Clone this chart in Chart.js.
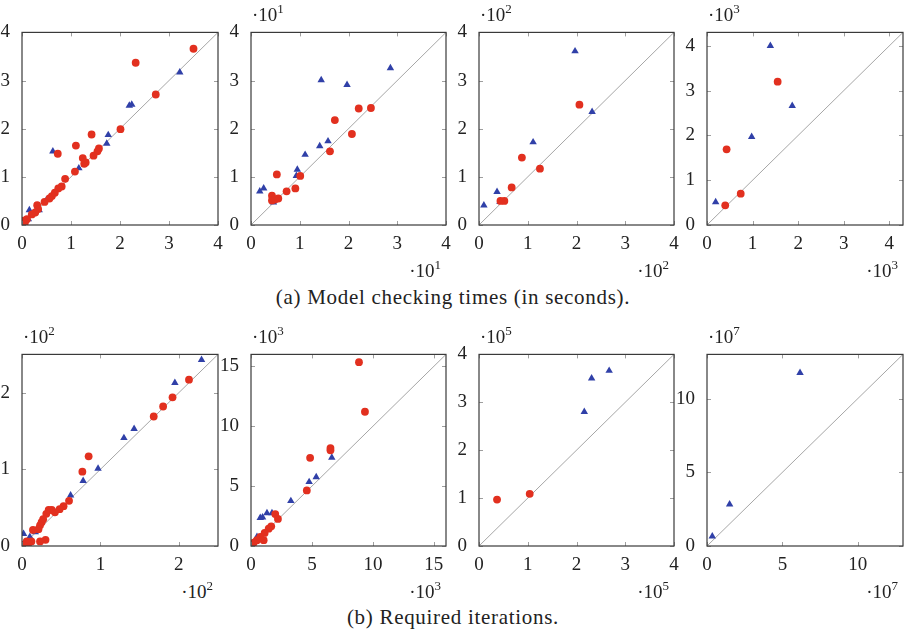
<!DOCTYPE html>
<html><head><meta charset="utf-8">
<script src="https://cdn.jsdelivr.net/npm/chart.js@4"></script>
<style>
body{margin:0;background:#fff;width:906px;height:630px;position:relative;overflow:hidden;font-family:'Liberation Serif','Times New Roman',serif;color:#222}
canvas{position:absolute}
.m{position:absolute;font-size:19px;line-height:20px;white-space:nowrap}
.m .s{font-size:13px;position:relative;top:-8px}
.cap{position:absolute;font-size:21px;letter-spacing:0.7px;line-height:22px;width:906px;text-align:center;left:0}
</style></head><body>
<div class="cap" style="top:286px">(a) Model checking times (in seconds).</div>
<div class="cap" style="top:606px">(b) Required iterations.</div>
<script>
// ---- data (x = first tool, y = second tool), values in axis units ----
const timesS_red = [[3.50,3.66],[2.32,3.37],[2.73,2.71],[2.01,1.99],[1.42,1.88],[1.10,1.65],[0.73,1.48],[1.57,1.59],[1.54,1.53],[1.46,1.44],[1.24,1.39],[1.27,1.27],[1.30,1.30],[1.08,1.11],[0.88,0.96],[0.81,0.80],[0.74,0.76],[0.67,0.67],[0.61,0.60],[0.56,0.55],[0.46,0.48],[0.31,0.41],[0.33,0.33],[0.27,0.26],[0.20,0.22],[0.10,0.12],[0.03,0.09],[0.00,0.02],[0.06,0.05]];
const timesS_blue = [[3.22,3.17],[2.24,2.50],[2.19,2.48],[1.76,1.87],[1.73,1.69],[0.63,1.53],[1.16,1.18],[0.50,0.52],[0.15,0.31],[0.35,0.31],[0.13,0.12],[0.00,0.00]];
const times10_red = [[2.46,2.43],[2.21,2.42],[1.72,2.18],[2.07,1.89],[1.62,1.53],[0.53,1.05],[1.01,1.02],[0.91,0.76],[0.73,0.70],[0.43,0.61],[0.43,0.51],[0.56,0.55],[0.49,0.53]];
const times10_blue = [[2.86,3.26],[1.44,3.01],[1.97,2.91],[1.58,1.74],[1.41,1.64],[1.11,1.46],[0.95,1.15],[0.93,1.02],[0.26,0.76],[0.18,0.70],[0.46,0.47]];
const times100_red = [[2.06,2.50],[0.88,1.40],[1.25,1.17],[0.67,0.78],[0.52,0.50],[0.44,0.50]];
const times100_blue = [[1.97,3.61],[2.32,2.35],[1.11,1.72],[0.37,0.69],[0.10,0.41],[0.43,0.48]];
const times1000_red = [[1.55,3.20],[0.43,1.69],[0.74,0.70],[0.40,0.44]];
const times1000_blue = [[1.39,4.00],[1.87,2.66],[0.98,1.97],[0.19,0.51]];
const iter100_red = [[2.13,2.17],[1.92,1.94],[1.80,1.82],[1.68,1.69],[0.85,1.17],[0.77,0.97],[0.60,0.59],[0.53,0.52],[0.48,0.48],[0.42,0.44],[0.38,0.47],[0.34,0.47],[0.31,0.42],[0.27,0.35],[0.25,0.31],[0.23,0.27],[0.21,0.22],[0.14,0.21],[0.30,0.08],[0.23,0.06],[0.12,0.06],[0.06,0.06],[0.04,0.02],[0.08,0.03],[0.02,0.01]];
const iter100_blue = [[2.29,2.43],[1.95,2.13],[1.43,1.53],[1.30,1.41],[0.97,1.01],[0.78,0.85],[0.62,0.66],[0.17,0.18],[0.10,0.12],[0.02,0.16],[0.02,0.03]];
const iter1e3_red = [[8.86,15.35],[9.35,11.21],[6.52,8.18],[6.52,7.99],[4.85,7.36],[4.58,4.64],[1.99,2.67],[2.21,2.26],[1.66,1.64],[1.45,1.45],[1.12,1.09],[1.04,0.49],[0.76,0.76],[0.49,0.49],[0.22,0.27]];
const iter1e3_blue = [[6.63,7.39],[5.35,5.75],[4.77,5.35],[3.27,3.76],[1.72,2.75],[1.31,2.75],[0.95,2.40],[0.76,2.35],[0.49,0.76]];
const iter1e5_red = [[0.37,0.97],[1.04,1.09]];
const iter1e5_blue = [[2.67,3.66],[2.31,3.50],[2.16,2.80]];
const iter1e7_red = [];
const iter1e7_blue = [[6.17,11.75],[1.50,2.83],[0.35,0.66]];

// axis ranges, tick labels and multipliers
const axisMax = [4, 4, 4, 4.3, 2.5, 16, 4, 13];
const ticks4 = [0,1,2,3,4];
const ticks2 = [0,1,2];
const ticks15 = [0,5,10,15];
const ticks10 = [0,5,10];
const panelTicks = [ticks4, ticks4, ticks4, ticks4, ticks2, ticks15, ticks4, ticks10];
const exponents = [null, 1, 2, 3, 2, 3, 5, 7];
const redSeries = [timesS_red, times10_red, times100_red, times1000_red, iter100_red, iter1e3_red, iter1e5_red, iter1e7_red];
const blueSeries = [timesS_blue, times10_blue, times100_blue, times1000_blue, iter100_blue, iter1e3_blue, iter1e5_blue, iter1e7_blue];

// layout (plot rectangles)
const rects = [
  [22,29,196,196],[251,29,195,196],[479,29,195,196],[707,29,196,196],
  [22,351,196,195],[251,351,195,195],[479,351,195,195],[707,351,196,195]
];

const RED = '#e2301f', BLUE = '#3040a8';
const FONT = {family:"'Liberation Serif', 'Times New Roman', serif", size:19};

const framePlugin = {
  id:'frame',
  afterDatasetsDraw(chart){
    const {ctx, chartArea:a, scales:{x,y}} = chart;
    ctx.save();
    ctx.strokeStyle='#9e9e9e'; ctx.lineWidth=1;
    ctx.beginPath();
    x.ticks.forEach(t=>{const p=Math.round(x.getPixelForValue(t.value))+0.5;
      ctx.moveTo(p,a.bottom); ctx.lineTo(p,a.bottom-4); ctx.moveTo(p,a.top); ctx.lineTo(p,a.top+4);});
    y.ticks.forEach(t=>{const p=Math.round(y.getPixelForValue(t.value))+0.5;
      ctx.moveTo(a.left,p); ctx.lineTo(a.left+4,p); ctx.moveTo(a.right,p); ctx.lineTo(a.right-4,p);});
    ctx.stroke();
    ctx.strokeStyle='#3a3a3a'; ctx.lineWidth=1.2;
    ctx.strokeRect(a.left,a.top,a.right-a.left,a.bottom-a.top);
    ctx.restore();
  }
};

const PL=45, PT=12, PR=5, PB=30;
rects.forEach((r,i)=>{
  const [L,T,W,H]=r;
  const c=document.createElement('canvas');
  c.width=PL+W+PR; c.height=PT+H+PB;
  c.style.left=(L-PL)+'px'; c.style.top=(T-PT)+'px';
  c.style.width=c.width+'px'; c.style.height=c.height+'px';
  document.body.appendChild(c);
  const mx=axisMax[i], tk=panelTicks[i];
  const toPts=a=>a.map(p=>({x:p[0],y:p[1]}));
  const scaleOpts=(axis)=>({
    type:'linear', min:0, max:mx,
    grid:{display:false}, border:{display:false},
    ticks:{font:FONT, color:'#222', padding:axis==='x'?0:4, autoSkip:false, maxRotation:0, includeBounds:false},
    afterBuildTicks:s=>{s.ticks=tk.map(v=>({value:v}));},
    afterFit:s=>{ if(axis==='x') s.height=PB; else s.width=PL; }
  });
  new Chart(c,{
    type:'scatter',
    data:{datasets:[
      {data:toPts(redSeries[i]), pointStyle:'circle', pointRadius:3.9, backgroundColor:RED, borderColor:RED, borderWidth:0},
      {data:toPts(blueSeries[i]), pointStyle:'triangle', pointRadius:4.3, backgroundColor:BLUE, borderColor:BLUE, borderWidth:0},
      {data:[{x:0,y:0},{x:mx,y:mx}], showLine:true, pointRadius:0, borderColor:'#a6a6a6', borderWidth:1}
    ]},
    options:{
      responsive:false, animation:false, devicePixelRatio:1,
      layout:{padding:{left:0,top:PT,right:PR,bottom:0}},
      plugins:{legend:{display:false}, tooltip:{enabled:false}},
      scales:{x:scaleOpts('x'), y:scaleOpts('y')}
    },
    plugins:[framePlugin]
  });
  const e=exponents[i];
  if(e!==null){
    const top=document.createElement('div'); top.className='m';
    top.innerHTML='·10<span class="s">'+e+'</span>';
    top.style.left=(L+1)+'px'; top.style.top=(T-24)+'px';
    document.body.appendChild(top);
    const bot=document.createElement('div'); bot.className='m';
    bot.innerHTML='·10<span class="s">'+e+'</span>';
    bot.style.right=(906-(L+W)+5)+'px'; bot.style.top=(T+H+36)+'px';
    document.body.appendChild(bot);
  }
});
</script>
</body></html>
